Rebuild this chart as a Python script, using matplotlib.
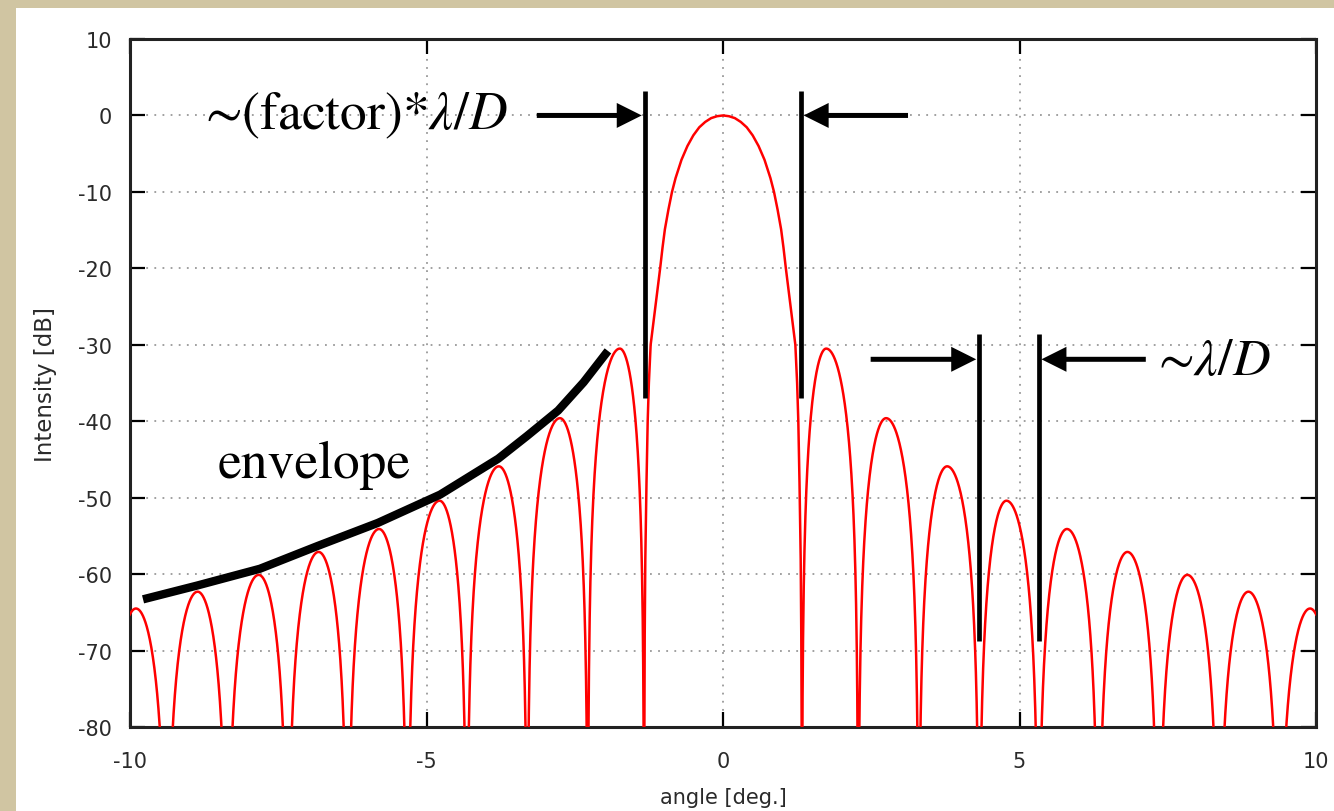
import numpy as np
import matplotlib.pyplot as plt
from matplotlib.patches import Rectangle

plt.rcParams['mathtext.fontset'] = 'stix'
plt.rcParams['axes.unicode_minus'] = False

# main lobe, right half (mirrored for the left half)
main_x = [0.0, 0.1, 0.2, 0.3, 0.4, 0.5, 0.6, 0.7, 0.8, 0.86, 0.92, 0.98, 1.02, 1.06,
          1.10, 1.14, 1.18, 1.22, 1.25, 1.27, 1.29, 1.31, 1.32, 1.33]
main_db = [0.0, -0.1, -0.35, -0.85, -1.55, -2.6, -4.0, -5.8, -8.2, -10.0, -12.3, -14.9,
           -17.3, -20.0, -22.5, -25.0, -27.5, -30.0, -35.0, -40.0, -48.0, -58.0, -68.0, -90.0]

# side lobes, right half: null positions, peak positions and peak levels
null_x = [1.33, 2.28, 3.30, 4.32, 5.32, 6.33, 7.34, 8.36, 9.38, 10.40]
peak_x = [1.74, 2.75, 3.78, 4.78, 5.80, 6.82, 7.83, 8.86, 9.90]
peak_db = [-30.5, -39.6, -45.9, -50.4, -54.1, -57.1, -60.1, -62.3, -64.5]

# hand-drawn envelope over the left side lobes
env_x = [-9.78, -8.87, -7.81, -6.83, -5.82, -4.77, -3.79, -3.30, -2.78, -2.35, -1.94]
env_db = [-63.3, -61.5, -59.3, -56.3, -53.3, -49.6, -44.9, -41.9, -38.6, -34.9, -30.8]

# width markers: bar positions and their vertical extent
bars_main = [-1.32, 1.31]
bars_main_y = (3.2, -37.0)
bars_side = [4.32, 5.33]
bars_side_y = (-28.6, -68.7)

xticks = [-10, -5, 0, 5, 10]
yticks = list(range(-80, 11, 10))


def lobe(a, m, b, p, sharp=1.7):
    x = np.linspace(a, b, 240)[1:-1]
    t = np.where(x < m, 0.5 * (x - a) / (m - a), 0.5 + 0.5 * (x - m) / (b - m))
    y = p + sharp * 20 * np.log10(np.sin(np.pi * t))
    return np.r_[a, x, b], np.r_[-90, y, -90]


# build the right half of the pattern then mirror it
rx, ry = [np.array(main_x)], [np.array(main_db)]
for i in range(len(peak_x)):
    lx, ly = lobe(null_x[i], peak_x[i], null_x[i + 1], peak_db[i])
    rx.append(lx)
    ry.append(ly)
rx = np.concatenate(rx)
ry = np.concatenate(ry)
xs = np.r_[-rx[::-1], rx[1:]]
ys = np.r_[ry[::-1], ry[1:]]

fig = plt.figure(figsize=(13.34, 8.12), dpi=100)
fig.patch.set_facecolor('#d0c5a2')
fig.add_artist(Rectangle((16 / 1334, 0), 1, 1 - 9 / 812, transform=fig.transFigure,
                         facecolor='white', edgecolor='none', zorder=0))

ax = fig.add_axes([130 / 1334, 1 - 728 / 812, (1316 - 130) / 1334, (728 - 40) / 812])
ax.set_facecolor('white')

ax.plot(xs, ys, color='#ff0000', lw=1.8, zorder=3)

ax.set_xlim(-10, 10)
ax.set_ylim(-80, 10)
ax.set_xticks(xticks)
ax.set_yticks(yticks)
ax.grid(True, color='#999999', linestyle=(0, (1.0, 3.5)), lw=1.3)
ax.tick_params(direction='in', length=11, width=1.6, top=True, right=True,
               labelsize=15, labelcolor='#2a2a2a')
ax.tick_params(axis='x', pad=17)
ax.tick_params(axis='y', pad=13)
for s in ax.spines.values():
    s.set_linewidth(2.2)
    s.set_color('#222222')
ax.set_xlabel('angle [deg.]', fontsize=15, color='#2a2a2a', labelpad=12)
ax.set_ylabel('Intensity [dB]', fontsize=16.5, color='#2a2a2a', labelpad=15)

# envelope
ax.plot(env_x, env_db, color='black', lw=6, solid_capstyle='butt',
        solid_joinstyle='round', zorder=4)

# marker bars
for bx in bars_main:
    ax.plot([bx, bx], bars_main_y, color='black', lw=3.4, solid_capstyle='butt', zorder=4)
for bx in bars_side:
    ax.plot([bx, bx], bars_side_y, color='black', lw=3.4, solid_capstyle='butt', zorder=4)

# arrows pointing at the bars
arrow = dict(facecolor='black', edgecolor='none', width=3.6, headwidth=18, headlength=18, shrink=0)
ax.annotate('', xy=(-1.37, 0), xytext=(-3.14, 0), arrowprops=arrow, zorder=5)
ax.annotate('', xy=(1.36, 0), xytext=(3.12, 0), arrowprops=arrow, zorder=5)
ax.annotate('', xy=(4.27, -31.9), xytext=(2.49, -31.9), arrowprops=arrow, zorder=5)
ax.annotate('', xy=(5.37, -31.9), xytext=(7.13, -31.9), arrowprops=arrow, zorder=5)

# labels
ax.text(-8.73, 0, '\u223c(factor)*$\\lambda/D$', fontsize=38.5, family='STIXGeneral',
        ha='left', va='center', zorder=6)
ax.text(7.34, -32.2, '\u223c$\\lambda/D$', fontsize=37.5, family='STIXGeneral',
        ha='left', va='center', zorder=6)
ax.text(-8.52, -45.6, 'envelope', fontsize=38.5, family='STIXGeneral',
        ha='left', va='center', zorder=6)

fig.savefig('out.png', dpi=100, facecolor=fig.get_facecolor())
